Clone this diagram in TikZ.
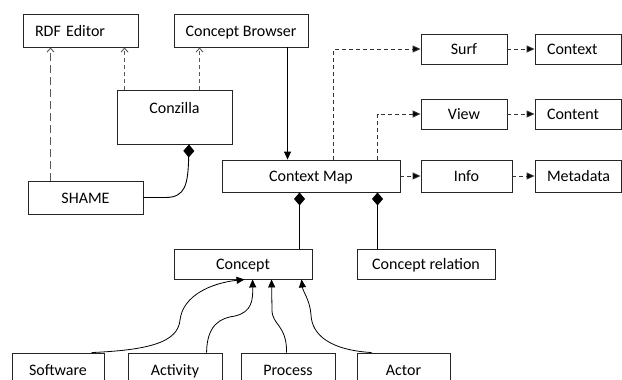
\documentclass[tikz,border=0pt]{standalone}
\usepackage{fontspec}
\setmainfont{Carlito}
\usetikzlibrary{arrows.meta}
\definecolor{boxline}{gray}{0.15}
\definecolor{linkline}{gray}{0.2}
\definecolor{depline}{gray}{0.35}

\begin{document}
\begin{tikzpicture}[x=1pt,y=-1pt,
  box/.style={draw=boxline, line width=0.9pt, fill=white, inner xsep=0pt, inner ysep=0pt,
    text height=11pt, text depth=0pt, font=\fontsize{16}{19}\selectfont},
  lbox/.style={box, align=left, text width=#1, inner xsep=12pt},
  flow/.style={draw=linkline, line width=0.9pt, dash pattern=on 4pt off 3pt,
    -{Triangle[length=8pt,width=7pt,fill=black]}},
  dep/.style={draw=depline, line width=0.9pt, dash pattern=on 4pt off 3pt,
    -{Straight Barb[length=4pt,width=7pt]}},
  deplong/.style={dep, dash pattern=on 8pt off 4pt},
  solidarrow/.style={draw=black, line width=0.9pt, -{Triangle[length=8pt,width=7pt]}},
  isa/.style={draw=black, line width=0.8pt, -{Triangle[length=8pt,width=7pt]}},
  comp/.style={draw=black, line width=0.9pt, {Diamond[length=13pt,width=11pt]}-},
]
\clip (0,0) rectangle (622,380);
\fill[white] (0,0) rectangle (622,380);

% top row
\node[lbox=91pt, minimum height=33pt] (rdf) at (80.5,30.5) {RDF Editor};
\node[box, minimum width=134pt, minimum height=33pt] (cb) at (241,30.5) {Concept Browser};
\node[box, minimum width=115pt, text height=23pt, text depth=31pt] (conz) at (174.5,117) {Conzilla};
\node[box, minimum width=115pt, minimum height=33pt] (shame) at (85.5,197.5) {SHAME};

% context map and its views
\node[box, minimum width=178pt, minimum height=32pt] (cm) at (311,176) {Context Map};
\node[box, minimum width=86pt, minimum height=30pt] (surf) at (464,49) {Surf};
\node[box, minimum width=86pt, minimum height=30pt] (view) at (464,114) {View};
\node[box, minimum width=91pt, minimum height=32pt] (info) at (466.5,176) {Info};
\node[lbox=62pt, minimum height=30pt] (ctx) at (578,49) {Context};
\node[lbox=62pt, minimum height=30pt] (cont) at (578,114) {Content};
\node[lbox=62pt, minimum height=32pt] (meta) at (578,176) {Metadata};

% concepts
\node[box, minimum width=138pt, minimum height=30pt] (concept) at (243,264) {Concept};
\node[box, minimum width=138pt, minimum height=30pt] (rel) at (426,264) {Concept relation};

% concept kinds
\node[box, minimum width=92pt, minimum height=33pt] (sw) at (58,369.5) {Software};
\node[box, minimum width=94pt, minimum height=33pt] (act) at (175,369.5) {Activity};
\node[box, minimum width=94pt, minimum height=33pt] (proc) at (288,369.5) {Process};
\node[box, minimum width=93pt, minimum height=33pt] (actor) at (403.5,369.5) {Actor};

% dependencies
\draw[deplong] ([xshift=23pt]shame.north west) -- ([xshift=28pt]rdf.south west);
\draw[dep] ([xshift=8pt]conz.north west) -- ([xshift=102pt]rdf.south west);
\draw[dep] ([xshift=83pt]conz.north west) -- ([xshift=26pt]cb.south west);
\draw[solidarrow] ([xshift=114pt]cb.south west) -- ([xshift=66pt]cm.north west);

% composition of Conzilla
\draw[comp] ([xshift=14.5pt]conz.south) .. controls +(-1,40) and +(20,0) .. ([xshift=22pt]shame.east) -- (shame.east);

% context map links
\draw[flow] ([xshift=112pt]cm.north west) |- (surf.west);
\draw[flow] ([xshift=156pt]cm.north west) |- (view.west);
\draw[flow] (cm.east) -- (info.west);
\draw[flow] (surf.east) -- (ctx.west);
\draw[flow] (view.east) -- (cont.west);
\draw[flow] (info.east) -- (meta.west);

% composition of the context map
\draw[comp] ([xshift=78pt]cm.south west) -- ([xshift=126pt]concept.north west);
\draw[comp] ([xshift=156pt]cm.south west) -- ([xshift=21pt]rel.north west);

% specialisations of Concept
\draw[isa] ([xshift=80pt]sw.north west) .. controls (150,350) and (178,342) .. (180,320)
  .. controls (183,295) and (212,283) .. ([xshift=71pt]concept.south west);
\draw[isa] ([xshift=79pt]act.north west) .. controls (207,325) and (220,318) .. (235,316)
  .. controls (252,312) and (253,300) .. ([xshift=79pt]concept.south west);
\draw[isa] ([xshift=46pt]proc.north west) .. controls (287,325) and (272,325) .. (272,310)
  -- ([xshift=98pt]concept.south west);
\draw[isa] ([xshift=15pt]actor.north west) .. controls (330,350) and (312,335) .. (311,315)
  .. controls (310,300) and (303,292) .. ([xshift=128pt]concept.south west);
\end{tikzpicture}
\end{document}
